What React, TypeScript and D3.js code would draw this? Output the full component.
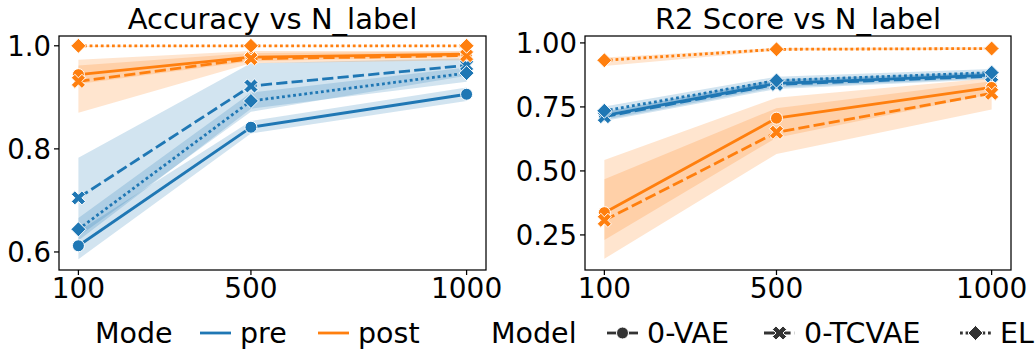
import React, { useEffect, useRef } from 'react';
import * as d3 from 'd3';

const svgWidth = 1035;
const svgHeight = 357;
const font = 'DejaVu Sans, sans-serif';

const nLabels = [100, 500, 1000];
const modes = ['pre', 'post'];
const models = ['0-VAE', '0-TCVAE', 'EL'];
const modeColors = ['#1f77b4', '#ff7f0e'];

// Accuracy: mean / lower / upper CI per (mode, model)
const accPreVae = [0.612, 0.842, 0.906];
const accPreVaeLo = [0.586, 0.830, 0.893];
const accPreVaeHi = [0.640, 0.854, 0.919];
const accPreTcvae = [0.705, 0.922, 0.962];
const accPreTcvaeLo = [0.630, 0.872, 0.942];
const accPreTcvaeHi = [0.783, 0.966, 0.976];
const accPreEl = [0.644, 0.893, 0.947];
const accPreElLo = [0.622, 0.878, 0.930];
const accPreElHi = [0.666, 0.909, 0.958];
const accPostVae = [0.944, 0.978, 0.984];
const accPostVaeLo = [0.926, 0.970, 0.979];
const accPostVaeHi = [0.962, 0.986, 0.989];
const accPostTcvae = [0.931, 0.975, 0.981];
const accPostTcvaeLo = [0.870, 0.966, 0.972];
const accPostTcvaeHi = [0.973, 0.990, 0.990];
const accPostEl = [1.0, 1.0, 1.0];
const accPostElLo = [0.998, 0.999, 0.999];
const accPostElHi = [1.0, 1.0, 1.0];

// R2 score
const r2PreVae = [0.716, 0.842, 0.874];
const r2PreVaeLo = [0.700, 0.826, 0.862];
const r2PreVaeHi = [0.732, 0.858, 0.886];
const r2PreTcvae = [0.712, 0.838, 0.870];
const r2PreTcvaeLo = [0.695, 0.820, 0.858];
const r2PreTcvaeHi = [0.729, 0.855, 0.884];
const r2PreEl = [0.735, 0.853, 0.884];
const r2PreElLo = [0.722, 0.840, 0.872];
const r2PreElHi = [0.752, 0.868, 0.898];
const r2PostVae = [0.337, 0.706, 0.826];
const r2PostVaeLo = [0.230, 0.630, 0.800];
const r2PostVaeHi = [0.467, 0.745, 0.850];
const r2PostTcvae = [0.307, 0.651, 0.803];
const r2PostTcvaeLo = [0.157, 0.566, 0.740];
const r2PostTcvaeHi = [0.543, 0.786, 0.862];
const r2PostEl = [0.932, 0.975, 0.978];
const r2PostElLo = [0.910, 0.970, 0.973];
const r2PostElHi = [0.943, 0.980, 0.983];

const accTicks = [0.6, 0.8, 1.0];
const r2Ticks = [0.25, 0.5, 0.75, 1.0];

type Series = { mode: number; model: number; mean: number[]; lo: number[]; hi: number[] };

const accSeries: Series[] = [
  { mode: 0, model: 0, mean: accPreVae, lo: accPreVaeLo, hi: accPreVaeHi },
  { mode: 0, model: 1, mean: accPreTcvae, lo: accPreTcvaeLo, hi: accPreTcvaeHi },
  { mode: 0, model: 2, mean: accPreEl, lo: accPreElLo, hi: accPreElHi },
  { mode: 1, model: 0, mean: accPostVae, lo: accPostVaeLo, hi: accPostVaeHi },
  { mode: 1, model: 1, mean: accPostTcvae, lo: accPostTcvaeLo, hi: accPostTcvaeHi },
  { mode: 1, model: 2, mean: accPostEl, lo: accPostElLo, hi: accPostElHi },
];
const r2Series: Series[] = [
  { mode: 0, model: 0, mean: r2PreVae, lo: r2PreVaeLo, hi: r2PreVaeHi },
  { mode: 0, model: 1, mean: r2PreTcvae, lo: r2PreTcvaeLo, hi: r2PreTcvaeHi },
  { mode: 0, model: 2, mean: r2PreEl, lo: r2PreElLo, hi: r2PreElHi },
  { mode: 1, model: 0, mean: r2PostVae, lo: r2PostVaeLo, hi: r2PostVaeHi },
  { mode: 1, model: 1, mean: r2PostTcvae, lo: r2PostTcvaeLo, hi: r2PostTcvaeHi },
  { mode: 1, model: 2, mean: r2PostEl, lo: r2PostElLo, hi: r2PostElHi },
];

const panels = [
  { title: 'Accuracy vs N_label', x0: 59, x1: 486, yDomain: [0.565, 1.019], ticks: accTicks, fmt: '.1f', series: accSeries },
  { title: 'R2 Score vs N_label', x0: 585, x1: 1011, yDomain: [0.113, 1.027], ticks: r2Ticks, fmt: '.2f', series: r2Series },
];

const top = 36;
const bottom = 270;
const lw = 2.8;
const dashes = ['', `${4 * lw},${1.5 * lw}`, `${1 * lw},${1 * lw}`];

// marker paths centred on 0,0
const xMarker = (() => {
  const a = 1 / 6;
  const pts = [[a, -0.5], [a, -a], [0.5, -a], [0.5, a], [a, a], [a, 0.5], [-a, 0.5], [-a, a], [-0.5, a], [-0.5, -a], [-a, -a], [-a, -0.5]];
  const s = 15;
  const c = Math.SQRT1_2;
  return 'M' + pts.map(([px, py]) => `${((px - py) * c * s).toFixed(2)},${((px + py) * c * s).toFixed(2)}`).join('L') + 'Z';
})();
const diamond = 'M0,-7.5L7.5,0L0,7.5L-7.5,0Z';

function drawMarker(g: any, model: number, x: number, y: number, color: string) {
  if (model === 0) {
    g.append('circle').attr('cx', x).attr('cy', y).attr('r', 6).attr('fill', color).attr('stroke', '#fff').attr('stroke-width', 1);
  } else {
    g.append('path')
      .attr('d', model === 1 ? xMarker : diamond)
      .attr('transform', `translate(${x},${y})`)
      .attr('fill', color)
      .attr('stroke', '#fff')
      .attr('stroke-width', 1);
  }
}

const App = () => {
  const ref = useRef<SVGSVGElement>(null);

  useEffect(() => {
    const svg = d3.select(ref.current);
    svg.selectAll('*').remove();

    panels.forEach(p => {
      const x = d3.scaleLinear().domain([55, 1045]).range([p.x0, p.x1]);
      const y = d3.scaleLinear().domain(p.yDomain).range([bottom, top]);
      const g = svg.append('g');

      // confidence bands go under every line
      p.series.forEach(s => {
        const band = d3.area<number>()
          .x((_, i) => x(nLabels[i]))
          .y0((_, i) => y(s.lo[i]))
          .y1((_, i) => y(s.hi[i]));
        g.append('path').attr('d', band(s.mean)).attr('fill', modeColors[s.mode]).attr('fill-opacity', 0.2).attr('stroke', 'none');
      });

      // lines and markers
      p.series.forEach(s => {
        const line = d3.line<number>().x((_, i) => x(nLabels[i])).y(d => y(d));
        g.append('path')
          .attr('d', line(s.mean))
          .attr('fill', 'none')
          .attr('stroke', modeColors[s.mode])
          .attr('stroke-width', lw)
          .attr('stroke-dasharray', dashes[s.model] || null);
        s.mean.forEach((v, i) => drawMarker(g, s.model, x(nLabels[i]), y(v), modeColors[s.mode]));
      });

      // frame
      g.append('rect')
        .attr('x', p.x0).attr('y', top).attr('width', p.x1 - p.x0).attr('height', bottom - top)
        .attr('fill', 'none').attr('stroke', '#000').attr('stroke-width', 1.25);

      // x axis
      nLabels.forEach(n => {
        g.append('line').attr('x1', x(n)).attr('x2', x(n)).attr('y1', bottom).attr('y2', bottom + 5).attr('stroke', '#000').attr('stroke-width', 1.25);
        g.append('text').attr('x', x(n)).attr('y', bottom + 28).attr('text-anchor', 'middle')
          .attr('font-family', font).attr('font-size', 28).attr('fill', '#000').text(String(n));
      });
      // y axis
      p.ticks.forEach(t => {
        g.append('line').attr('x1', p.x0 - 5).attr('x2', p.x0).attr('y1', y(t)).attr('y2', y(t)).attr('stroke', '#000').attr('stroke-width', 1.25);
        g.append('text').attr('x', p.x0 - 8).attr('y', y(t)).attr('dy', '0.36em').attr('text-anchor', 'end')
          .attr('font-family', font).attr('font-size', 27.5).attr('fill', '#000').text(d3.format(p.fmt)(t));
      });
      // title
      g.append('text').attr('x', (p.x0 + p.x1) / 2).attr('y', 29).attr('text-anchor', 'middle')
        .attr('font-family', font).attr('font-size', 29).attr('fill', '#000').text(p.title);
    });

    // legend
    const ly = 333;
    const leg = svg.append('g').attr('font-family', font).attr('font-size', 28.5).attr('fill', '#000');
    const text = (tx: number, s: string) => leg.append('text').attr('x', tx).attr('y', ly).attr('dy', '0.36em').text(s);
    text(95, 'Mode');
    const modeHandles = [200, 318];
    modes.forEach((m, i) => {
      leg.append('line').attr('x1', modeHandles[i]).attr('x2', modeHandles[i] + 31).attr('y1', ly).attr('y2', ly)
        .attr('stroke', modeColors[i]).attr('stroke-width', lw);
      text(modeHandles[i] + 40, m);
    });
    text(491, 'Model');
    const modelHandles = [607, 764, 960];
    models.forEach((m, i) => {
      leg.append('line').attr('x1', modelHandles[i]).attr('x2', modelHandles[i] + 31).attr('y1', ly).attr('y2', ly)
        .attr('stroke', '#333').attr('stroke-width', lw).attr('stroke-dasharray', dashes[i] || null);
      drawMarker(leg, i, modelHandles[i] + 15.5, ly, '#333');
      text(modelHandles[i] + 40, m);
    });
  }, []);

  return <svg ref={ref} width={svgWidth} height={svgHeight} style={{ display: 'block', position: 'absolute', left: 0, top: 0 }} />;
};

export default App;
